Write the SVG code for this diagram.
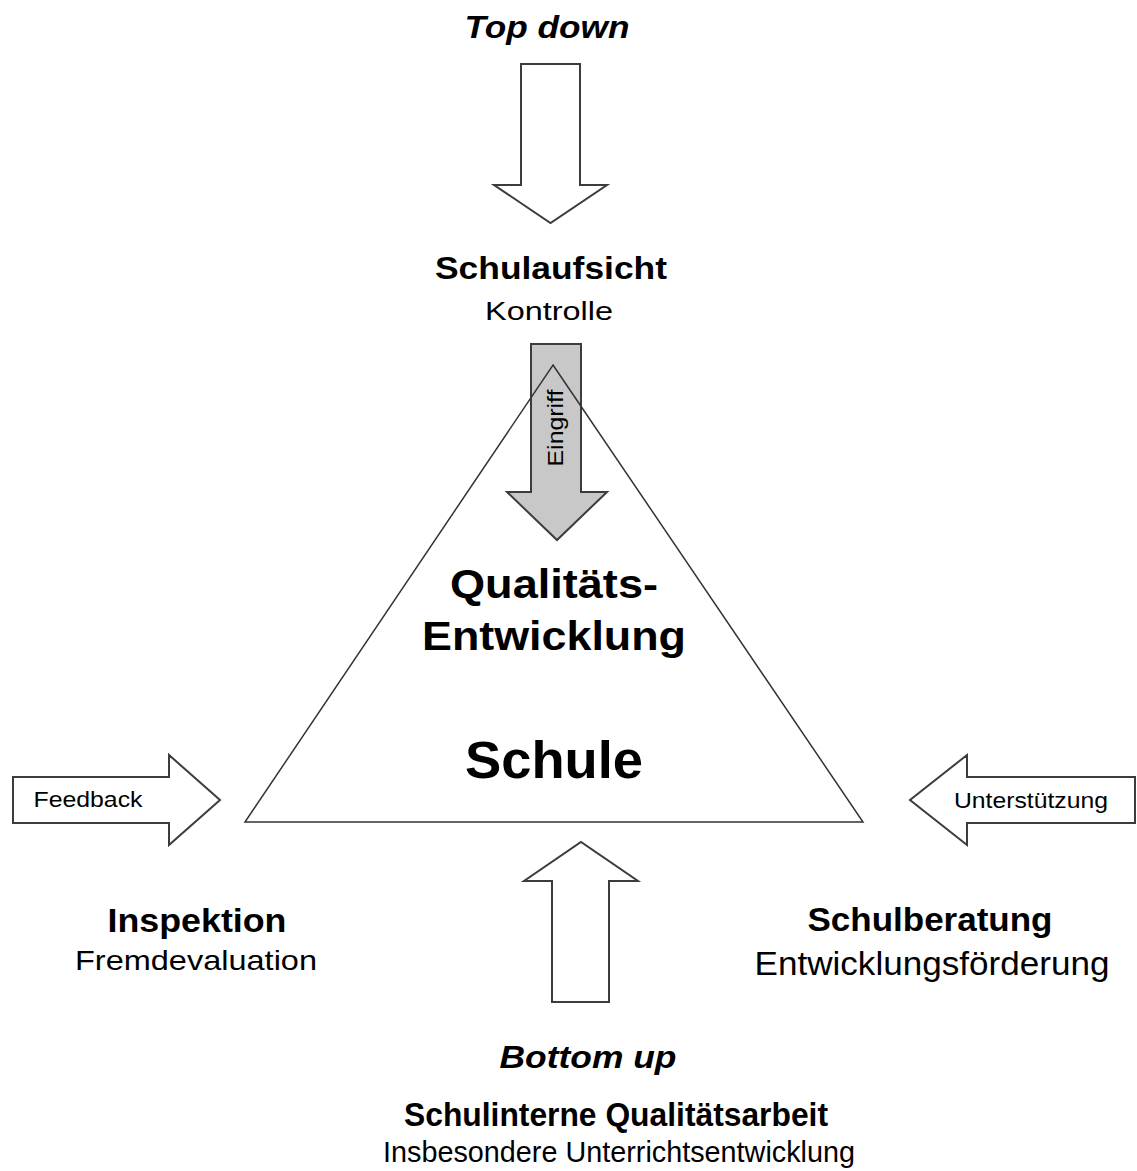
<svg xmlns="http://www.w3.org/2000/svg" width="1137" height="1171" viewBox="0 0 1137 1171">
<style>
.arr{fill:#ffffff;stroke:#3c3c3c;stroke-width:2;stroke-linejoin:miter}
.garr{fill:#c8c8c8;stroke:#3c3c3c;stroke-width:2}
.tri{fill:none;stroke:#333333;stroke-width:1.5}
text{font-family:"Liberation Sans",Arial,sans-serif;fill:#000000;text-anchor:middle}
.b{font-weight:bold}
.bi{font-weight:bold;font-style:italic}
.s{font-size:22px}
</style>
<rect width="1137" height="1171" fill="#ffffff"/>
<g id="connectors">
<polygon class="arr" points="521,64 580,64 580,185 607,185 550.5,223 494,185 521,185"/>
<polygon class="garr" points="531,344 581,344 581,492 607,492 557,540 507,492 531,492"/>
<polygon class="arr" points="13,777 169,777 169,755 220,800 169,845 169,823 13,823"/>
<polygon class="arr" points="1135,777 967,777 967,755 910,800 967,845 967,823 1135,823"/>
<polygon class="arr" points="552,1002 609,1002 609,881 638,881 581,842 524,881 552,881"/>
</g>
<g id="schule">
<polygon class="tri" points="553,365 863,822 245,822"/>
<text class="b" x="554" y="598" font-size="40" textLength="208" lengthAdjust="spacingAndGlyphs">Qualitäts-</text>
<text class="b" x="554" y="650" font-size="41" textLength="264" lengthAdjust="spacingAndGlyphs">Entwicklung</text>
<text class="b" x="554" y="778" font-size="51" textLength="178" lengthAdjust="spacingAndGlyphs">Schule</text>
</g>
<g id="eingriff">
<text class="s" transform="translate(563,428) rotate(-90)" x="0" y="0" font-size="23" textLength="77" lengthAdjust="spacingAndGlyphs">Eingriff</text>
</g>
<g id="topdown">
<text class="bi" x="547" y="38" font-size="32" textLength="165" lengthAdjust="spacingAndGlyphs">Top down</text>
</g>
<g id="schulaufsicht">
<text class="b" x="551" y="279" font-size="31" textLength="232" lengthAdjust="spacingAndGlyphs">Schulaufsicht</text>
<text x="549" y="320" font-size="25" textLength="128" lengthAdjust="spacingAndGlyphs">Kontrolle</text>
</g>
<g id="feedback">
<text class="s" x="88" y="807" textLength="109" lengthAdjust="spacingAndGlyphs">Feedback</text>
</g>
<g id="unterstuetzung">
<text class="s" x="1031" y="808" textLength="154" lengthAdjust="spacingAndGlyphs">Unterstützung</text>
</g>
<g id="inspektion">
<text class="b" x="197" y="932" font-size="34" textLength="179" lengthAdjust="spacingAndGlyphs">Inspektion</text>
<text x="196" y="970" font-size="28" textLength="242" lengthAdjust="spacingAndGlyphs">Fremdevaluation</text>
</g>
<g id="schulberatung">
<text class="b" x="930" y="931" font-size="34" textLength="245" lengthAdjust="spacingAndGlyphs">Schulberatung</text>
<text x="932" y="975" font-size="33" textLength="355" lengthAdjust="spacingAndGlyphs">Entwicklungsförderung</text>
</g>
<g id="bottomup">
<text class="bi" x="588" y="1068" font-size="32" textLength="177" lengthAdjust="spacingAndGlyphs">Bottom up</text>
</g>
<g id="schulinterne">
<text class="b" x="616" y="1126" font-size="33" textLength="424" lengthAdjust="spacingAndGlyphs">Schulinterne Qualitätsarbeit</text>
<text x="619" y="1162" font-size="30" textLength="472" lengthAdjust="spacingAndGlyphs">Insbesondere Unterrichtsentwicklung</text>
</g>
</svg>
